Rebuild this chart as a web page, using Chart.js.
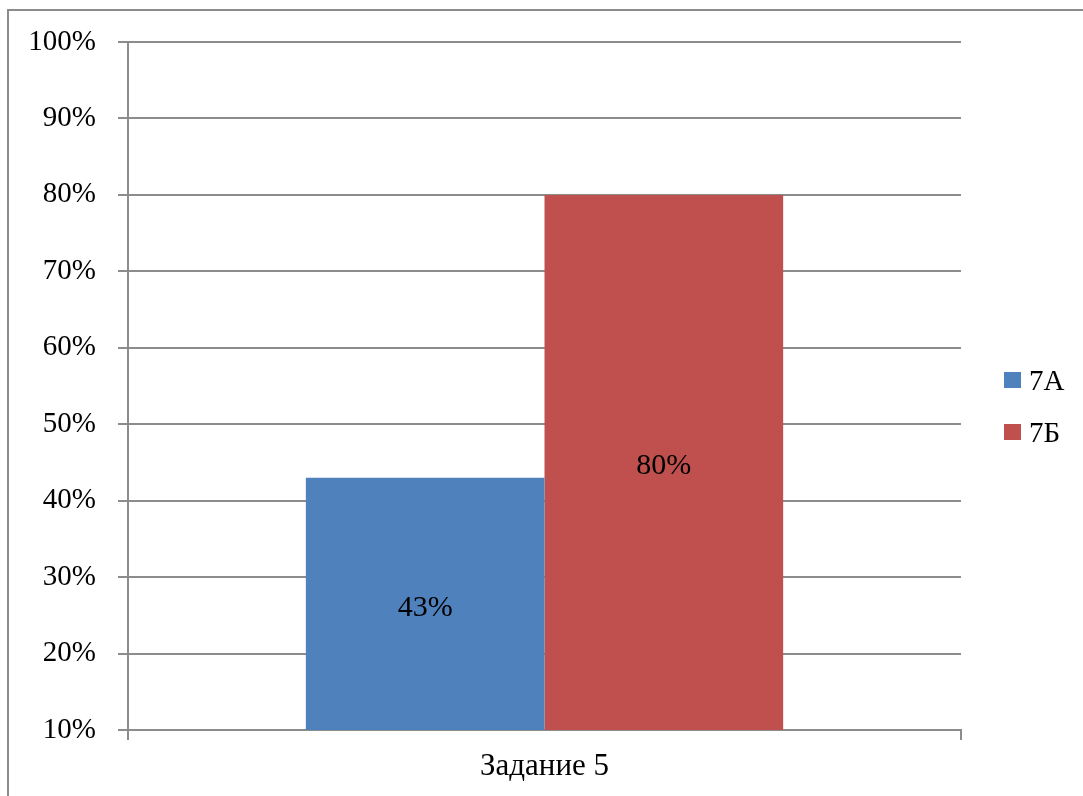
<!DOCTYPE html>
<html>
<head>
<meta charset="utf-8">
<script src="https://cdn.jsdelivr.net/npm/chart.js@4.4.1/dist/chart.umd.min.js"></script>
<style>
  html, body { margin: 0; padding: 0; background: #fff; overflow: hidden; }
  #frame {
    position: absolute; left: 7px; top: 9px;
    width: 1100px; height: 800px;
    border: 2px solid #8c8c8c;
  }
  #frame canvas { display: block; }
</style>
</head>
<body>
<div id="frame"><canvas id="myChart" width="1100" height="800"></canvas></div>
<script>
const categories = ["Задание 5"];
const seriesNames = ["7А", "7Б"];
const valuesA = [43];
const valuesB = [80];
const seriesColors = ["#4F81BD", "#C0504D"];
const yTicks = [10, 20, 30, 40, 50, 60, 70, 80, 90, 100];

const FONT = "'Liberation Serif', 'Times New Roman', serif";
const GRID = "#8c8c8c";

// value labels centred in the visible part of each bar
const barLabels = {
  id: "barLabels",
  afterDatasetsDraw(chart) {
    const ctx = chart.ctx;
    const bottom = chart.scales.y.bottom;
    ctx.save();
    ctx.font = "30px " + FONT;
    ctx.fillStyle = "#000";
    ctx.textAlign = "center";
    ctx.textBaseline = "middle";
    chart.data.datasets.forEach((ds, i) => {
      chart.getDatasetMeta(i).data.forEach((bar, j) => {
        const y = (bar.y + Math.min(bar.base, bottom)) / 2 + 4;
        ctx.fillText(ds.data[j] + "%", bar.x, y);
      });
    });
    ctx.restore();
  },
};

// legend on the right, drawn close to the reference layout
const sideLegend = {
  id: "sideLegend",
  afterDraw(chart) {
    const ctx = chart.ctx;
    const area = chart.chartArea;
    const x = area.right + 43;
    let y = (area.top + area.bottom) / 2 - 6;
    ctx.save();
    ctx.font = "29px " + FONT;
    ctx.textBaseline = "middle";
    ctx.textAlign = "left";
    chart.data.datasets.forEach((ds) => {
      ctx.fillStyle = ds.backgroundColor;
      ctx.fillRect(x, y - 8, 17, 16);
      ctx.fillStyle = "#000";
      ctx.fillText(ds.label, x + 25, y + 2);
      y += 52;
    });
    ctx.restore();
  },
};

new Chart("myChart", {
  type: "bar",
  data: {
    labels: categories,
    datasets: [
      { label: seriesNames[0], data: valuesA, backgroundColor: seriesColors[0] },
      { label: seriesNames[1], data: valuesB, backgroundColor: seriesColors[1] },
    ],
  },
  options: {
    responsive: false,
    animation: false,
    layout: { padding: { top: 31, right: 148, bottom: 21, left: 0 } },
    datasets: {
      bar: { categoryPercentage: 0.573, barPercentage: 1, borderWidth: 0 },
    },
    scales: {
      x: {
        afterFit: (s) => {
          s.height = 60;
          s.paddingLeft = s.paddingRight = 0;
        },
        grid: {
          offset: true,
          drawOnChartArea: false,
          drawTicks: true,
          tickLength: 10,
          color: GRID,
          lineWidth: 2,
        },
        border: { color: GRID, width: 2 },
        ticks: {
          color: "#000",
          padding: 8,
          font: { family: FONT, size: 31 },
        },
      },
      y: {
        min: 10,
        max: 100,
        afterFit: (s) => {
          s.width = 119;
          s.paddingTop = s.paddingBottom = 0;
        },
        afterBuildTicks: (s) => { s.ticks = yTicks.map((v) => ({ value: v })); },
        grid: { color: GRID, lineWidth: 2, tickLength: 10 },
        border: { color: GRID, width: 2 },
        ticks: {
          color: "#000",
          padding: 22,
          font: { family: FONT, size: 29 },
          callback: (v) => v + "%",
        },
      },
    },
    plugins: {
      legend: { display: false },
      tooltip: { enabled: false },
    },
  },
  plugins: [barLabels, sideLegend],
});
</script>
</body>
</html>
